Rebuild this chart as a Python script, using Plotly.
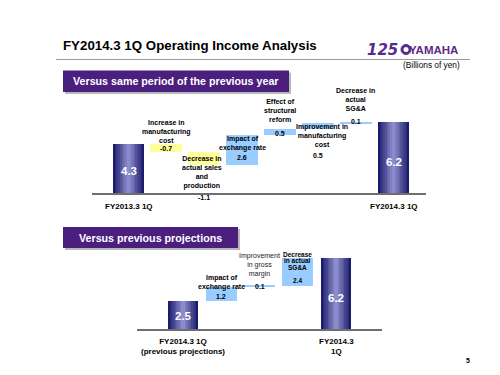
import plotly.graph_objects as go

W, H = 500, 375

# ---------------- data ----------------
top_start_label = "FY2013.3 1Q"
top_end_label = "FY2014.3 1Q"
top_start = 4.3
top_step_names = [
    "Increase in<br>manufacturing<br>cost",
    "Decrease in<br>actual sales<br>and<br>production",
    "Impact of<br>exchange rate",
    "Effect of<br>structural<br>reform",
    "Improvement in<br>manufacturing<br>cost",
    "Decrease in<br>actual<br>SG&A",
]
top_steps = [-0.7, -1.1, 2.6, 0.5, 0.5, 0.1]
top_end = 6.2

bot_start_label = "FY2014.3 1Q<br>(previous projections)"
bot_end_label = "FY2014.3<br>1Q"
bot_start = 2.5
bot_step_names = [
    "Impact of<br>exchange rate",
    "Improvement<br>in gross<br>margin",
    "Decrease<br>in actual<br>SG&A",
]
bot_steps = [1.2, 0.1, 2.4]
bot_end = 6.2

# ---------------- helpers ----------------
def ppx(p):
    return p / W

def ppy(p):
    return 1 - p / H

FONT = "Liberation Sans, Arial, sans-serif"
NAVY_DARK = (28, 28, 108)
NAVY_LIGHT = (140, 140, 204)
YELLOW = "#ffff99"
BLUE = "#99ccff"
PURPLE = "#4b1f7e"

fig = go.Figure()
annotations = []
shapes = []


def total_bar(xref, yref, x, v, width, name):
    n = 9
    for i in range(n):
        t = i / (n - 1)
        c = tuple(int(NAVY_DARK[k] + (NAVY_LIGHT[k] - NAVY_DARK[k]) * t) for k in range(3))
        w = width * (1 - 0.88 * t)
        fig.add_trace(go.Bar(
            x=[x], y=[v], width=w, marker=dict(color="rgb(%d,%d,%d)" % c, line=dict(width=0)),
            xaxis=xref, yaxis=yref, showlegend=False, hoverinfo="skip", name=name))
    annotations.append(dict(
        x=x, y=v * 0.44, xref=xref, yref=yref, text="<b>%.1f</b>" % v, showarrow=False,
        font=dict(family=FONT, size=11.5, color="white"), xanchor="center", yanchor="middle"))


def step_bars(xref, yref, start, steps, width):
    cum = start
    xs, bases, heights, colors = [], [], [], []
    for i, s in enumerate(steps):
        lo = min(cum, cum + s)
        xs.append(i + 1)
        bases.append(lo)
        heights.append(abs(s))
        colors.append(YELLOW if s < 0 else BLUE)
        cum += s
    fig.add_trace(go.Bar(
        x=xs, y=heights, base=bases, width=width,
        marker=dict(color=colors, line=dict(width=0)),
        xaxis=xref, yaxis=yref, showlegend=False, hoverinfo="skip"))


def text(xref, x, ypx, t, size=7, bold=True, color="black", yanchor="middle"):
    annotations.append(dict(
        x=x, y=ppy(ypx), xref=xref, yref="paper",
        text=("<b>%s</b>" % t) if bold else t, showarrow=False,
        font=dict(family=FONT, size=size, color=color),
        xanchor="center", yanchor=yanchor))


# ---------------- top chart ----------------
total_bar("x", "y", 0, top_start, 0.82, top_start_label)
step_bars("x", "y", top_start, top_steps, 0.84)
total_bar("x", "y", len(top_steps) + 1, top_end, 0.82, top_end_label)

top_name_y = [123, 164, 135.5, 103, 127, 92]
top_val_y = [140.5, 189, 149, 125.5, 147, 113]
top_name_x_off = [0, -0.05, 0, 0, 0.1, 0]
for i, (nm, s) in enumerate(zip(top_step_names, top_steps)):
    text("x", i + 1 + top_name_x_off[i], top_name_y[i], nm)
    text("x", i + 1, top_val_y[i], "%.1f" % s)

text("x", 0, 198, top_start_label, size=8)
text("x", len(top_steps) + 1, 198, top_end_label, size=8)

# ---------------- bottom chart ----------------
total_bar("x2", "y2", 0, bot_start, 0.79, "start")
step_bars("x2", "y2", bot_start, bot_steps, 0.8)
total_bar("x2", "y2", len(bot_steps) + 1, bot_end, 0.79, "end")

text("x2", 1, 274.5, bot_step_names[0])
text("x2", 1, 288, "%.1f" % bot_steps[0])
text("x2", 2, 257, bot_step_names[1], bold=False, color="#222")
text("x2", 2, 278, "%.1f" % bot_steps[1])
for j, line in enumerate(bot_step_names[2].split("<br>")):
    text("x2", 3, 246 + j * 6.6, line, size=6.5)
text("x2", 3, 272, "%.1f" % bot_steps[2], size=6.5)

text("x2", 0, 338.5, bot_start_label, size=8)
text("x2", len(bot_steps) + 1, 338.5, bot_end_label, size=8)

# ---------------- slide furniture ----------------
annotations.append(dict(x=ppx(53), y=ppy(38), xref="paper", yref="paper", xanchor="left", yanchor="middle",
                        text="<b>FY2014.3 1Q Operating Income Analysis</b>", showarrow=False,
                        font=dict(family=FONT, size=13.3, color="black")))
shapes.append(dict(type="line", xref="paper", yref="paper", x0=ppx(48), x1=ppx(462), y0=ppy(51.5), y1=ppy(51.5),
                   line=dict(color="#9a9a9a", width=1)))

# logo
LOGO = "#5b2a88"
annotations.append(dict(x=ppx(374), y=ppy(41.5), xref="paper", yref="paper", xanchor="center", yanchor="middle",
                        text="<b><i>125</i></b>", showarrow=False,
                        font=dict(family="DejaVu Sans, sans-serif", size=15, color=LOGO)))
shapes.append(dict(type="circle", xref="paper", yref="paper", x0=ppx(393), x1=ppx(403), y0=ppy(46.5), y1=ppy(36.5),
                   fillcolor=LOGO, line=dict(color=LOGO, width=1)))
shapes.append(dict(type="circle", xref="paper", yref="paper", x0=ppx(395.5), x1=ppx(400.5), y0=ppy(44), y1=ppy(39),
                   fillcolor="white", line=dict(color="white", width=0)))
annotations.append(dict(x=ppx(452), y=ppy(41.5), xref="paper", yref="paper", xanchor="right", yanchor="middle",
                        text="<b>YAMAHA</b>", showarrow=False,
                        font=dict(family=FONT, size=11.5, color=LOGO)))
annotations.append(dict(x=ppx(454), y=ppy(57), xref="paper", yref="paper", xanchor="right", yanchor="middle",
                        text="(Billions of yen)", showarrow=False,
                        font=dict(family=FONT, size=8.3, color="black")))

# section headers
for (x0, x1, y0, y1, t, cx) in [(55, 281, 62.5, 84, "Versus same period of the previous year", 168),
                                 (55, 230, 219, 240, "Versus previous projections", 142)]:
    shapes.append(dict(type="rect", xref="paper", yref="paper", x0=ppx(x0 + 2), x1=ppx(x1 + 2),
                       y0=ppy(y1 + 2), y1=ppy(y0 + 2), fillcolor="#b8b8b8", line=dict(width=0)))
    shapes.append(dict(type="rect", xref="paper", yref="paper", x0=ppx(x0), x1=ppx(x1),
                       y0=ppy(y1), y1=ppy(y0), fillcolor=PURPLE, line=dict(width=0)))
    annotations.append(dict(x=ppx(cx), y=ppy((y0 + y1) / 2), xref="paper", yref="paper",
                            xanchor="center", yanchor="middle", text="<b>%s</b>" % t, showarrow=False,
                            font=dict(family=FONT, size=10.7, color="white")))

annotations.append(dict(x=ppx(460), y=ppy(352), xref="paper", yref="paper", xanchor="center", yanchor="middle",
                        text="<b>5</b>", showarrow=False, font=dict(family=FONT, size=7, color="black")))

# ---------------- axes ----------------
PXU = 11.4
top_n = len(top_steps) + 2
sp_top = (385.5 - 120.5) / (top_n - 1)
sp_bot = (328 - 175) / (len(bot_steps) + 1)

axis_common = dict(showgrid=False, zeroline=False, showticklabels=False, ticks="",
                   showline=True, linecolor="#6e6e6e", linewidth=2, fixedrange=True)
fig.update_layout(
    width=W, height=H, margin=dict(l=0, r=0, t=0, b=0),
    paper_bgcolor="white", plot_bgcolor="rgba(0,0,0,0)",
    barmode="overlay", bargap=0,
    showlegend=False,
    xaxis=dict(domain=[ppx(84), ppx(418)], anchor="y",
               range=[-(120.5 - 84) / sp_top, (top_n - 1) + (418 - 385.5) / sp_top], **axis_common),
    yaxis=dict(domain=[ppy(185), ppy(78)], anchor="x", range=[0, (185 - 78) / PXU], visible=False, fixedrange=True),
    xaxis2=dict(domain=[ppx(129), ppx(374)], anchor="y2",
                range=[-(175 - 129) / sp_bot, len(bot_steps) + 1 + (374 - 328) / sp_bot], **axis_common),
    yaxis2=dict(domain=[ppy(321), ppy(240)], anchor="x2", range=[0, (321 - 240) / PXU], visible=False, fixedrange=True),
    annotations=annotations,
    shapes=shapes,
)

fig.write_html("out.html")
